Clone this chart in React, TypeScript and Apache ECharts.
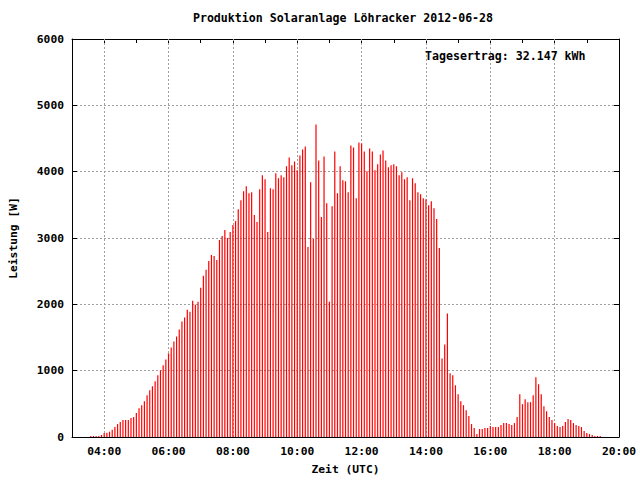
import React, { useEffect, useRef } from "react";
import * as echarts from "echarts";

// Start of the measurement series (03:35 UTC) and the 5-minute sample step, in minutes
const startMinutes = 215;
const stepMinutes = 5;

// Power readings [W], one every 5 minutes from 03:35 to 19:25 UTC
const power = [
  15, 15, 15, 15, 30,
  60, 65, 80, 110, 150,
  195, 225, 255, 255, 255,
  285, 300, 360, 435, 480,
  540, 630, 705, 765, 840,
  930, 1005, 1080, 1170, 1260,
  1350, 1440, 1515, 1620, 1740,
  1800, 1920, 1890, 2055, 1995,
  2040, 2250, 2430, 2520, 2655,
  2745, 2730, 2670, 2970, 3030,
  3120, 3000, 3090, 3195, 3255,
  3435, 3570, 3705, 3780, 3675,
  3690, 3345, 3240, 3735, 3945,
  3885, 3090, 3750, 3735, 3975,
  3900, 3945, 3915, 4080, 4215,
  4095, 4155, 4020, 4245, 4335,
  4380, 2865, 3840, 2985, 4710,
  4170, 3315, 4230, 3525, 2040,
  3480, 4305, 3675, 4080, 3870,
  3855, 3690, 4395, 4365, 3600,
  4440, 4425, 4305, 4005, 4350,
  4305, 4020, 4110, 4260, 4320,
  4170, 4065, 4095, 4110, 4080,
  3945, 3990, 3885, 3915, 3570,
  3900, 3825, 3690, 3660, 3600,
  3585, 3495, 3555, 3450, 3285,
  2850, 1185, 1395, 1860, 960,
  930, 780, 645, 540, 480,
  405, 315, 195, 135, 45,
  120, 120, 135, 135, 165,
  150, 150, 150, 180, 210,
  210, 195, 180, 210, 300,
  645, 495, 570, 525, 525,
  630, 900, 795, 645, 465,
  390, 300, 255, 210, 165,
  150, 165, 225, 270, 255,
  210, 180, 165, 150, 90,
  60, 45, 30, 15, 15,
  15,
];

// Sample times in minutes since midnight (UTC)
const times = power.map((_, i) => startMinutes + i * stepMinutes);

// Axis settings: 03:00 .. 20:00, labelled grid every two hours
const xMin = 180;
const xMax = 1200;
const gridHours = [240, 360, 480, 600, 720, 840, 960, 1080];

const titleText = "Produktion Solaranlage Löhracker 2012-06-28";
const yieldText = "Tagesertrag: 32.147 kWh";
const xName = "Zeit (UTC)";
const yName = "Leistung [W]";

const FONT = "'DejaVu Sans Mono', 'Liberation Mono', monospace";
const FS = 11.3;
const FS_TITLE = 11.6;

function fmtTime(v: number): string {
  const h = Math.floor(v / 60);
  const m = v % 60;
  return (h < 10 ? "0" : "") + h + ":" + (m < 10 ? "0" : "") + m;
}

export default function App() {
  const ref = useRef<HTMLDivElement>(null);

  useEffect(() => {
    if (!ref.current) return;
    const chart = echarts.init(ref.current, undefined, { renderer: "svg" });
    const textStyle = {
      fontFamily: FONT,
      fontSize: FS,
      fontWeight: "bold" as const,
      color: "#000",
    };
    const gridLine = { color: "#a0a0a0", width: 1, type: [2, 2] as number[] };

    chart.setOption({
      animation: false,
      backgroundColor: "#fff",
      textStyle,
      grid: { left: 68, right: 21, top: 39, bottom: 40, containLabel: false },
      graphic: [
        {
          type: "text",
          x: 343,
          y: 18,
          style: {
            text: titleText,
            fontFamily: FONT,
            fontSize: FS_TITLE,
            fontWeight: "bold",
            fill: "#000",
            align: "center",
            verticalAlign: "middle",
          },
        },
        {
          type: "text",
          x: 425,
          y: 56,
          z: 100,
          style: {
            text: yieldText,
            fontFamily: FONT,
            fontSize: FS_TITLE,
            fontWeight: "bold",
            fill: "#000",
            align: "left",
            verticalAlign: "middle",
          },
        },
      ],
      xAxis: [
        {
          type: "value",
          position: "bottom",
          min: xMin,
          max: xMax,
          interval: 60,
          axisLine: { show: true, onZero: false, lineStyle: { color: "#000", width: 1 } },
          axisTick: { show: false },
          splitLine: { show: false },
          axisLabel: {
            margin: 9,
            ...textStyle,
            formatter: (v: number) => (v % 120 === 0 ? fmtTime(v) : ""),
          },
          name: xName,
          nameLocation: "middle",
          nameGap: 27,
          nameTextStyle: textStyle,
        },
        {
          type: "value",
          position: "top",
          min: xMin,
          max: xMax,
          interval: 60,
          axisLine: { show: true, onZero: false, lineStyle: { color: "#000", width: 1 } },
          axisTick: { show: true, inside: true, length: 4, lineStyle: { color: "#000" } },
          axisLabel: { show: false },
          splitLine: { show: false },
        },
      ],
      yAxis: [
        {
          type: "value",
          position: "left",
          min: 0,
          max: 6000,
          interval: 1000,
          axisLine: { show: true, onZero: false, lineStyle: { color: "#000", width: 1 } },
          axisTick: { show: true, inside: true, length: 5, lineStyle: { color: "#000" } },
          axisLabel: { margin: 8, ...textStyle, formatter: (v: number) => String(v) },
          splitLine: { show: true, showMinLine: false, showMaxLine: false, lineStyle: gridLine },
          name: yName,
          nameLocation: "middle",
          nameGap: 53,
          nameRotate: 90,
          nameTextStyle: textStyle,
        },
        {
          type: "value",
          position: "right",
          min: 0,
          max: 6000,
          interval: 1000,
          axisLine: { show: true, onZero: false, lineStyle: { color: "#000", width: 1 } },
          axisTick: { show: true, inside: true, length: 5, lineStyle: { color: "#000" } },
          axisLabel: { show: false },
          splitLine: { show: false },
        },
      ],
      series: [
        {
          type: "bar",
          xAxisIndex: 0,
          yAxisIndex: 0,
          barWidth: 1.2,
          itemStyle: { color: "#ff0000" },
          data: times.map((t, i) => [t, power[i]]),
          markLine: {
            silent: true,
            symbol: "none",
            label: { show: false },
            lineStyle: gridLine,
            z: 1,
            data: gridHours.map((h) => ({ xAxis: h })),
          },
        },
      ],
    });

    return () => chart.dispose();
  }, []);

  return (
    <div
      ref={ref}
      style={{ position: "fixed", left: 0, top: 0, width: 640, height: 480 }}
    />
  );
}
